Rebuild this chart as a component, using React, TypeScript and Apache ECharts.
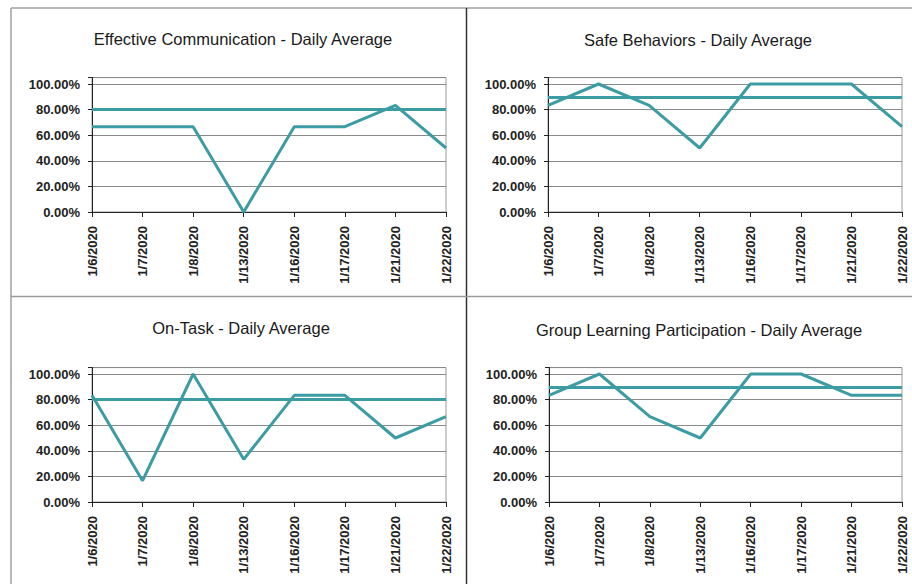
import React, { useEffect, useRef } from "react";
import * as echarts from "echarts";

const dates = ["1/6/2020", "1/7/2020", "1/8/2020", "1/13/2020", "1/16/2020", "1/17/2020", "1/21/2020", "1/22/2020"];
const yTicks = [0, 20, 40, 60, 80, 100];

const commTitle = "Effective Communication - Daily Average";
const commValues = [66.67, 66.67, 66.67, 0, 66.67, 66.67, 83.33, 50];
const commTarget = 80;

const safeTitle = "Safe Behaviors - Daily Average";
const safeValues = [83.33, 100, 83.33, 50, 100, 100, 100, 66.67];
const safeTarget = 90;

const taskTitle = "On-Task - Daily Average";
const taskValues = [83.33, 16.67, 100, 33.33, 83.33, 83.33, 50, 66.67];
const taskTarget = 80;

const groupTitle = "Group Learning Participation - Daily Average";
const groupValues = [83.33, 100, 66.67, 50, 100, 100, 83.33, 83.33];
const groupTarget = 90;

const panels = [
  { title: commTitle, values: commValues, target: commTarget },
  { title: safeTitle, values: safeValues, target: safeTarget },
  { title: taskTitle, values: taskValues, target: taskTarget },
  { title: groupTitle, values: groupValues, target: groupTarget },
];

const TEAL = "#3c9ca4";
const FONT = "Liberation Sans, Arial, sans-serif";

export default function App() {
  const ref = useRef<HTMLDivElement>(null);

  useEffect(() => {
    if (!ref.current) return;
    const chart = echarts.init(ref.current, null, { renderer: "svg" });

    const layout = [
      { left: 92, right: 466, top: 77.6, bottom: 372, tx: 243, ty: 30 },
      { left: 548, right: 10, top: 77.6, bottom: 372, tx: 698, ty: 31 },
      { left: 92, right: 466, top: 367.6, bottom: 82, tx: 241, ty: 319 },
      { left: 549, right: 10, top: 367.6, bottom: 82, tx: 699, ty: 321 },
    ];

    const titles: any[] = [];
    const grids: any[] = [];
    const xAxes: any[] = [];
    const yAxes: any[] = [];
    const series: any[] = [];

    panels.forEach((p, i) => {
      const l = layout[i];
      titles.push({
        text: p.title,
        left: l.tx,
        top: l.ty,
        textAlign: "center",
        padding: 0,
        textStyle: { fontFamily: FONT, fontSize: 16.5, fontWeight: "normal", color: "#1a1a1a" },
      });
      grids.push({
        left: l.left,
        right: l.right,
        top: l.top,
        bottom: l.bottom,
        show: true,
        borderColor: "#9a9a9a",
        borderWidth: 1,
        backgroundColor: "transparent",
      });
      xAxes.push({
        type: "category",
        gridIndex: i,
        data: dates,
        boundaryGap: false,
        axisLine: { show: true, lineStyle: { color: "#222", width: 1 } },
        axisTick: { show: true, length: 5, lineStyle: { color: "#222" } },
        axisLabel: {
          rotate: 90,
          margin: 14,
          interval: 0,
          fontFamily: FONT,
          fontSize: 13,
          fontWeight: "bold",
          color: "#222",
        },
        splitLine: { show: false },
      });
      yAxes.push({
        type: "value",
        gridIndex: i,
        min: 0,
        max: 105,
        interval: 20,
        axisLine: { show: true, lineStyle: { color: "#222", width: 1 } },
        axisTick: { show: true, length: 4, lineStyle: { color: "#222" } },
        axisLabel: {
          margin: 12,
          fontFamily: FONT,
          fontSize: 13,
          fontWeight: "bold",
          color: "#222",
          formatter: (v: number) => (yTicks.includes(v) ? v.toFixed(2) + "%" : ""),
        },
        splitLine: { show: true, lineStyle: { color: "#8a8a8a", width: 1 } },
      });
      series.push({
        type: "line",
        name: p.title,
        xAxisIndex: i,
        yAxisIndex: i,
        data: p.values,
        symbol: "none",
        lineStyle: { color: TEAL, width: 3 },
        itemStyle: { color: TEAL },
        z: 3,
        markLine: {
          silent: true,
          symbol: "none",
          label: { show: false },
          lineStyle: { color: TEAL, width: 3, type: "solid" },
          data: [{ yAxis: p.target }],
        },
      });
    });

    chart.setOption({
      animation: false,
      backgroundColor: "#ffffff",
      title: titles,
      grid: grids,
      xAxis: xAxes,
      yAxis: yAxes,
      series,
      graphic: [
        { type: "line", shape: { x1: 11, y1: 8, x2: 912, y2: 8 }, style: { stroke: "#a0a0a0", lineWidth: 1.5 } },
        { type: "line", shape: { x1: 11, y1: 8, x2: 11, y2: 584 }, style: { stroke: "#a0a0a0", lineWidth: 1.5 } },
        { type: "line", shape: { x1: 466.5, y1: 8, x2: 466.5, y2: 584 }, style: { stroke: "#333", lineWidth: 1.5 } },
        { type: "line", shape: { x1: 11, y1: 296.5, x2: 912, y2: 296.5 }, style: { stroke: "#9a9a9a", lineWidth: 1.5 } },
      ],
    });

    return () => chart.dispose();
  }, []);

  return (
    <div
      ref={ref}
      style={{ position: "fixed", left: 0, top: 0, width: 912, height: 584, background: "#fff" }}
    />
  );
}
